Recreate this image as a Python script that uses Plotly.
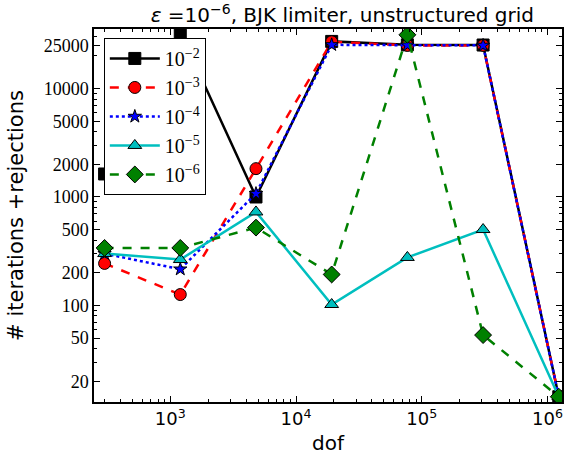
import numpy as np
import plotly.graph_objects as go

dof = [300, 1200, 4800, 19200, 76800, 307200, 1228800]
tol_1e2 = [1630, 33000, 1000, 27200, 25300, 25200, 14.4]
tol_1e3 = [244, 126, 1825, 27000, 25000, 25000, 14.4]
tol_1e4 = [300, 216, 1075, 25300, 25100, 25000, 14.4]
tol_1e5 = [301, 265, 728, 102, 277, 501, 14.4]
tol_1e6 = [339, 339, 522, 193, 31300, 53.3, 14.4]

names = ["10<sup>−2</sup>", "10<sup>−3</sup>", "10<sup>−4</sup>", "10<sup>−5</sup>", "10<sup>−6</sup>"]
series = [tol_1e2, tol_1e3, tol_1e4, tol_1e5, tol_1e6]
colors = ["#000000", "#FF0000", "#0000FF", "#00BFBF", "#008000"]
dashes = ["solid", "dash", "dot", "solid", "dash"]
symbols = ["square", "circle", "star", "triangle-up", "diamond"]
msizes = [12, 12, 10, 12, 13]

ytick_vals = [20, 50, 100, 200, 500, 1000, 2000, 5000, 10000, 25000]
ytick_text = ["20", "50", "100", "200", "500", "1000", "2000", "5000", "10000", "25000"]
xtick_vals = [1e3, 1e4, 1e5, 1e6]
xtick_text = ["10<sup>3</sup>", "10<sup>4</sup>", "10<sup>5</sup>", "10<sup>6</sup>"]

fig = go.Figure()
for nm, ys, c, d, s, ms in zip(names, series, colors, dashes, symbols, msizes):
    fig.add_trace(go.Scatter(
        x=dof, y=ys, name=nm, mode="lines+markers",
        line=dict(color=c, width=2.5, dash=d),
        marker=dict(symbol=s, size=ms, color=c, line=dict(color="black", width=1)),
    ))

minor_x = [k * 10.0 ** n for n in range(2, 7) for k in range(2, 10)]
minor_y = [k * 10.0 ** n for n in range(1, 5) for k in range(1, 10)]

fig.update_layout(
    width=564, height=461,
    margin=dict(l=94, r=0, t=29, b=59),
    paper_bgcolor="white", plot_bgcolor="white",
    title=dict(text="<i>ε</i> =10<sup>−6</sup>, BJK limiter, unstructured grid",
               x=0.607, xanchor="center", y=0.982, yanchor="top",
               font=dict(family="DejaVu Sans", size=20, color="black")),
    legend=dict(x=0.021, y=0.976, xanchor="left", yanchor="top",
                bordercolor="black", borderwidth=1, bgcolor="white",
                font=dict(family="Liberation Serif", size=20, color="black"),
                itemwidth=50, tracegroupgap=0),
    showlegend=True,
)
fig.update_xaxes(
    type="log", range=[2.393, 6.115],
    tickvals=xtick_vals, ticktext=xtick_text,
    tickfont=dict(family="DejaVu Sans", size=18, color="black"),
    ticks="inside", ticklen=6, tickcolor="black", tickwidth=1,
    minor=dict(ticks="inside", ticklen=3, tickvals=minor_x, tickcolor="black", showgrid=False),
    showline=True, linecolor="black", linewidth=1.5, mirror="allticks",
    showgrid=False, zeroline=False,
    title=dict(text="dof", font=dict(family="DejaVu Sans", size=20, color="black"), standoff=8),
)
fig.update_yaxes(
    type="log", range=[1.1096, 4.549],
    tickvals=ytick_vals, ticktext=ytick_text,
    tickfont=dict(family="Liberation Serif", size=18, color="black"),
    ticks="inside", ticklen=6, tickcolor="black", tickwidth=1,
    minor=dict(ticks="inside", ticklen=3, tickvals=minor_y, tickcolor="black", showgrid=False),
    showline=True, linecolor="black", linewidth=1.5, mirror="allticks",
    showgrid=False, zeroline=False,
    title=dict(text="# iterations +rejections", font=dict(family="DejaVu Sans", size=21, color="black"), standoff=14),
)

fig.write_html("out.html")
